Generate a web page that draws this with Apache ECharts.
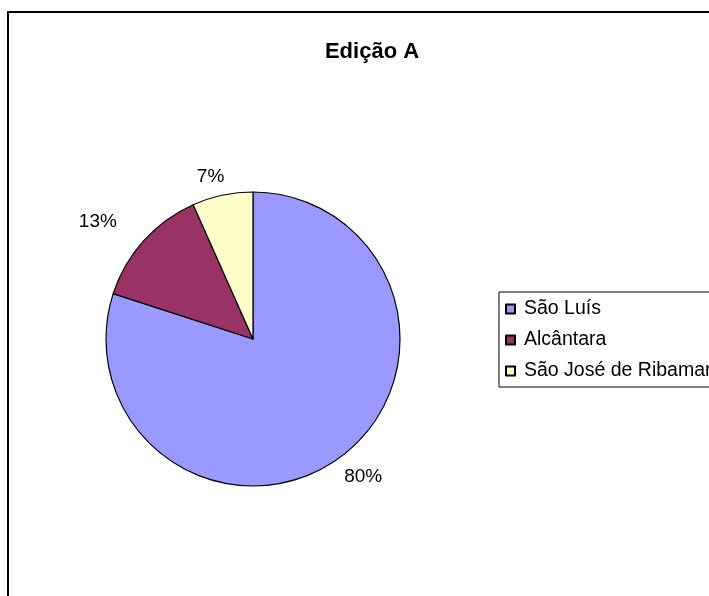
<!DOCTYPE html>
<html>
<head>
<meta charset="utf-8">
<script src="https://cdn.jsdelivr.net/npm/echarts@6/dist/echarts.min.js"></script>
<style>
html,body{margin:0;padding:0;background:#fff;}
#chart{width:709px;height:596px;}
</style>
</head>
<body>
<div id="chart"></div>
<script>
const titleText = 'Edição A';
const categories = ['São Luís', 'Alcântara', 'São José de Ribamar'];
const values = [12, 2, 1];
const colors = ['#9999FF', '#993366', '#FFFFCC'];

// label nudges (styling only)
const labelNudge = [[-12, 3], [-7, -5], [11, 1]];

const chart = echarts.init(document.getElementById('chart'), null, {renderer: 'canvas'});
const FONT = '"Liberation Sans", Arial, sans-serif';

chart.setOption({
  backgroundColor: '#ffffff',
  animation: false,
  title: {
    text: titleText,
    left: 367,
    top: 36,
    textAlign: 'center',
    textStyle: {fontFamily: FONT, fontSize: 22, fontWeight: 'bold', color: '#000'}
  },
  graphic: [{
    type: 'rect',
    shape: {x: 8, y: 12, width: 760, height: 640},
    style: {fill: 'none', stroke: '#000', lineWidth: 2},
    silent: true,
    z: -10
  }],
  legend: {
    orient: 'vertical',
    left: 499,
    top: 292,
    itemWidth: 9,
    itemHeight: 9,
    itemGap: 11,
    padding: [7, 60, 6, 6],
    borderColor: '#000',
    borderWidth: 1,
    icon: 'rect',
    data: categories,
    textStyle: {fontFamily: FONT, fontSize: 19.5, color: '#000', lineHeight: 20, padding: [0, 0, 0, 4]}
  },
  series: [{
    type: 'pie',
    center: [253, 339],
    radius: 147,
    startAngle: 90,
    clockwise: true,
    avoidLabelOverlap: false,
    data: categories.map((c, i) => ({
      name: c,
      value: values[i],
      itemStyle: {color: colors[i]},
      label: {offset: labelNudge[i]}
    })),
    itemStyle: {borderColor: '#000', borderWidth: 1.2},
    label: {
      show: true,
      position: 'outside',
      formatter: p => Math.round(p.percent) + '%',
      fontFamily: FONT,
      fontSize: 19,
      color: '#000'
    },
    labelLine: {show: false, length: 20, length2: 0},
    emphasis: {disabled: true}
  }]
});
</script>
</body>
</html>
